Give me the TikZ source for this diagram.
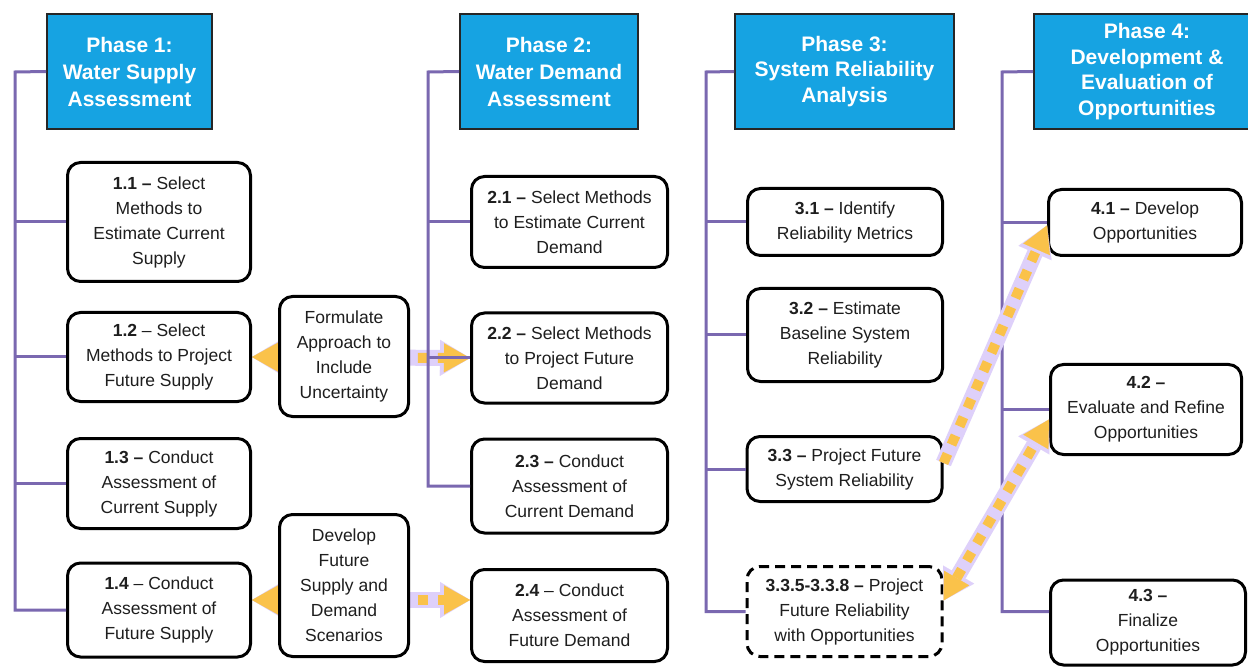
\documentclass[tikz,border=0pt]{standalone}
\usepackage{fontspec}
\setmainfont{Liberation Sans}
\usetikzlibrary{arrows.meta,calc}
\definecolor{hdr}{RGB}{22,163,226}
\definecolor{treec}{RGB}{122,104,176}
\definecolor{gold}{RGB}{250,194,74}
\definecolor{glowc}{RGB}{222,208,250}
\definecolor{txt}{RGB}{30,30,30}
\pgfdeclarelayer{bg}
\pgfsetlayers{bg,main}
\begin{document}
\begin{tikzpicture}[x=1pt,y=-1pt,
  hdrbox/.style={draw=black!85, line width=1.8pt, fill=hdr, text=white, align=center,
     font=\fontsize{21}{27}\selectfont\bfseries, inner sep=0pt, minimum height=115pt},
  hdrtight/.style={font=\fontsize{21}{25.5}\selectfont\bfseries},
  box/.style={draw=black, line width=3pt, rounded corners=13pt, fill=white, align=center,
     font=\fontsize{17.5}{25}\selectfont, text=txt, inner sep=0pt},
  dashbox/.style={box, dash pattern=on 10pt off 6pt},
  tree/.style={draw=treec, line width=3pt},
  glow/.style={draw=glowc, line width=16pt},
  dots/.style={draw=gold, line width=10pt, dash pattern=on 10pt off 10pt},
  gtip/.tip={Triangle[length=30pt,width=36pt,line width=0.1pt]},
  ytip/.tip={Triangle[length=26pt,width=29pt,line width=0.1pt]},
]
\clip (0,0) rectangle (1248,668);

% headers
\node[hdrbox, minimum width=165pt] (h1) at (129.5,71.5) {Phase 1:\\Water Supply\\Assessment};
\node[hdrbox, minimum width=178pt] (h2) at (549,71.5) {Phase 2:\\Water Demand\\Assessment};
\node[hdrbox, hdrtight, minimum width=219pt] (h3) at (844.5,71.5) {Phase 3:\\System Reliability\\Analysis};
\node[hdrbox, hdrtight, minimum width=226pt] (h4) at (1147,71.5) {Phase 4:\\Development \&\\Evaluation of\\Opportunities};

% phase 1 boxes
\node[box, minimum width=183pt, minimum height=119pt] (p11) at (159,222) {\textbf{1.1 –} Select\\Methods to\\Estimate Current\\Supply};
\node[box, minimum width=183pt, minimum height=89pt] (p12) at (159,357) {\textbf{1.2} – Select\\Methods to Project\\Future Supply};
\node[box, minimum width=183pt, minimum height=90pt] (p13) at (159,483.5) {\textbf{1.3 –} Conduct\\Assessment of\\Current Supply};
\node[box, minimum width=183pt, minimum height=94pt] (p14) at (159,610) {\textbf{1.4} – Conduct\\Assessment of\\Future Supply};
% middle boxes
\node[box, minimum width=129pt, minimum height=120pt] (form) at (344,356.5) {Formulate\\Approach to\\Include\\Uncertainty};
\node[box, minimum width=129pt, minimum height=142pt] (dev) at (344,585.5) {Develop\\Future\\Supply and\\Demand\\Scenarios};
% phase 2 boxes
\node[box, minimum width=196pt, minimum height=91pt] (p21) at (569.5,222) {\textbf{2.1 –} Select Methods\\to Estimate Current\\Demand};
\node[box, minimum width=196pt, minimum height=90pt] (p22) at (569.5,358) {\textbf{2.2 –} Select Methods\\to Project Future\\Demand};
\node[box, minimum width=196pt, minimum height=94pt] (p23) at (569.5,486) {\textbf{2.3 –} Conduct\\Assessment of\\Current Demand};
\node[box, minimum width=196pt, minimum height=92pt] (p24) at (569.5,615.5) {\textbf{2.4} – Conduct\\Assessment of\\Future Demand};
% phase 3 boxes
\node[box, minimum width=195pt, minimum height=67pt] (p31) at (845,222) {\textbf{3.1 –} Identify\\Reliability Metrics};
\node[box, minimum width=195pt, minimum height=93pt] (p32) at (845,335) {\textbf{3.2 –} Estimate\\Baseline System\\Reliability};
\node[box, minimum width=195pt, minimum height=65pt] (p33) at (844.5,469) {\textbf{3.3 –} Project Future\\System Reliability};
\node[dashbox, minimum width=195pt, minimum height=90pt] (p335) at (844.5,611.5) {\textbf{3.3.5-3.3.8 –} Project\\Future Reliability\\with Opportunities};
% phase 4 boxes
\node[box, minimum width=193pt, minimum height=66pt] (p41) at (1145,222.5) {\textbf{4.1 –} Develop\\Opportunities};
\node[box, minimum width=191pt, minimum height=90pt] (p42) at (1146,409.5) {\textbf{4.2 –}\\Evaluate and Refine\\Opportunities};
\node[box, minimum width=195pt, minimum height=85pt] (p43) at (1148,622.5) {\textbf{4.3 –}\\Finalize\\Opportunities};

% tree lines
\coordinate (t1) at (15,72);
\coordinate (t2) at (428,72);
\coordinate (t3) at (706,72);
\coordinate (t4) at (1002,72);
\draw[tree] (h1.west) -- (t1) |- (p14.west);
\foreach \n in {p11,p12,p13} \draw[tree] (t1 |- \n.west) -- (\n.west);
\draw[tree] (h2.west) -- (t2) |- (p23.west);
\foreach \n in {p21,p22} \draw[tree] (t2 |- \n.west) -- (\n.west);
\draw[tree] (h3.west) -- (t3) |- (p335.west);
\foreach \n in {p31,p32,p33} \draw[tree] (t3 |- \n.west) -- (\n.west);
\draw[tree] (h4.west) -- (t4) |- ([yshift=11pt]p43.west);
\foreach \n in {p41,p42} \draw[tree] (t4 |- \n.west) -- (\n.west);

% arrows
\coordinate (a2) at (0,600);
\begin{pgfonlayer}{bg}
\fill[white] (0,0) rectangle (1248,668);
\draw[glow, gtip-gtip] (p12.east) -- (p22.west);
\draw[dots, ytip-ytip] (p12.east) -- (p22.west);
\draw[glow, gtip-gtip] (p14.east |- a2) -- (p24.west |- a2);
\draw[dots, ytip-ytip] (p14.east |- a2) -- (p24.west |- a2);
\end{pgfonlayer}
\draw[glow, -gtip] ([yshift=6pt]p33.east) -- ([yshift=-3pt]p41.west);
\draw[dots, -ytip] ([yshift=6pt]p33.east) -- ([yshift=-3pt]p41.west);
\draw[glow, gtip-gtip] ([yshift=11pt]p335.east) -- ([yshift=-10pt]p42.west);
\draw[dots, ytip-ytip] ([yshift=11pt]p335.east) -- ([yshift=-10pt]p42.west);
\end{tikzpicture}
\end{document}
